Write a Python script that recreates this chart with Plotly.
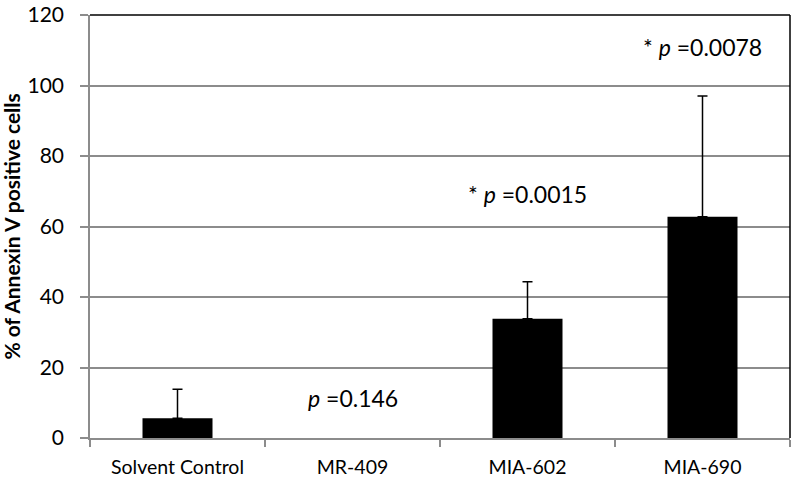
import plotly.graph_objects as go

categories = ["Solvent Control", "MR-409", "MIA-602", "MIA-690"]
values = [5.6, 0.0, 33.8, 62.8]
errors_plus = [8.2, 0.0, 10.5, 34.2]
p_labels = ["", "<i>p</i> =0.146", "* <i>p</i> =0.0015", "* <i>p</i> =0.0078"]
p_label_y = [None, 11.3, 69.2, 111.0]
y_ticks = [0, 20, 40, 60, 80, 100, 120]

FONT = "Lato, Open Sans, sans-serif"
L, R, T, B = 90, 6, 15, 46
W, H = 796, 484

# bars with a zero value are not drawn (no visible bar or error bar in the original)
shown = [i for i, v in enumerate(values) if v > 0]

fig = go.Figure()
fig.add_trace(go.Bar(
    x=[categories[i] for i in shown], y=[values[i] for i in shown], width=0.4,
    marker=dict(color="black", line=dict(width=0)),
    error_y=dict(type="data", array=[errors_plus[i] for i in shown],
                 arrayminus=[0] * len(shown), symmetric=False,
                 color="black", thickness=1.5, width=5),
    showlegend=False, hoverinfo="skip",
))

for c, t, yv in zip(categories, p_labels, p_label_y):
    if t:
        fig.add_annotation(x=c, y=yv, text=t, showarrow=False,
                           font=dict(family=FONT, size=23, color="black"))

fig.add_annotation(xref="paper", yref="paper", x=-(L - 11) / (W - L - R), y=0.5,
                   text="<b>% of Annexin V positive cells</b>", textangle=-90,
                   showarrow=False, xanchor="center", yanchor="middle",
                   font=dict(family=FONT, size=21, color="black"))

fig.add_shape(type="line", xref="paper", yref="paper", x0=0, x1=1, y0=1, y1=1,
              line=dict(color="black", width=1.5))
fig.add_shape(type="line", xref="paper", yref="paper", x0=1, x1=1, y0=0, y1=1,
              line=dict(color="black", width=1.5))

fig.update_layout(
    width=W, height=H,
    margin=dict(l=L, r=R, t=T, b=B),
    paper_bgcolor="white", plot_bgcolor="white",
    font=dict(family=FONT, size=19, color="black"),
    bargap=0.6,
    xaxis=dict(type="category", categoryorder="array", categoryarray=categories,
               range=[-0.5, len(categories) - 0.5],
               showline=True, linecolor="#8c8c8c", linewidth=1.5,
               ticks="outside", tickson="boundaries", ticklen=7, tickcolor="#8c8c8c",
               tickwidth=1.5, showgrid=False, tickfont=dict(size=19.5), automargin=False,
               ticklabelstandoff=11),
    yaxis=dict(range=[0, 120], tickvals=y_ticks, showline=True, linecolor="#8c8c8c",
               linewidth=1.5, ticks="outside", ticklen=8, tickcolor="#8c8c8c", tickwidth=1.5,
               showgrid=True, gridcolor="#8c8c8c", gridwidth=1.5, zeroline=False,
               tickfont=dict(size=21), automargin=False, ticklabelstandoff=12),
)

fig.write_html("out.html", config={"displayModeBar": False},
               post_script="document.body.style.margin='0';")
